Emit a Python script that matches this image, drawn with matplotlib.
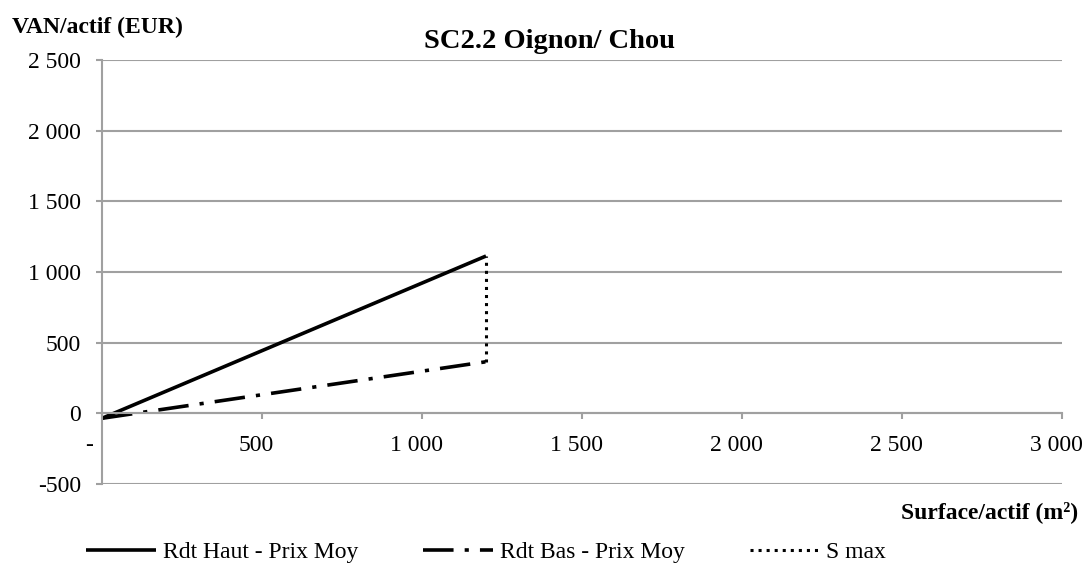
import matplotlib
matplotlib.use("Agg")
import matplotlib.pyplot as plt
from matplotlib.transforms import ScaledTranslation

plt.rcParams['font.family'] = ['Liberation Serif', 'DejaVu Serif']
plt.rcParams['lines.scale_dashes'] = False

# Data
surface = [0, 1200]
rdt_haut = [-35, 1113]
rdt_bas = [-35, 365]
smax_x = [1200, 1200]
smax_y = [365, 1113]

x_ticks = [0, 500, 1000, 1500, 2000, 2500, 3000]
x_labels = ['-', '500', '1 000', '1 500', '2 000', '2 500', '3 000']
y_ticks = [-500, 0, 500, 1000, 1500, 2000, 2500]
y_labels = ['-500', '0', '500', '1 000', '1 500', '2 000', '2 500']

title = 'SC2.2 Oignon/ Chou'
y_title = 'VAN/actif (EUR)'
x_title = 'Surface/actif (m²)'
series_names = ['Rdt Haut - Prix Moy', 'Rdt Bas - Prix Moy', 'S max']

W, H = 1086, 563
fig = plt.figure(figsize=(W / 100, H / 100), dpi=100)
ax = fig.add_axes([102 / W, 1 - 484 / H, (1062 - 102) / W, (484 - 60) / H])

grid_c = '#a0a0a0'
FS = 17

l1, = ax.plot(surface, rdt_haut, color='black', lw=2.6, solid_capstyle='butt')
l2, = ax.plot(surface, rdt_bas, color='black', lw=2.6,
              linestyle=(0, (22, 8, 3, 8)), dash_capstyle='butt')
l3, = ax.plot(smax_x, smax_y, color='black', lw=2.2,
              linestyle=(0, (2.2, 3.6)), dash_capstyle='butt')

for s in ['top', 'right']:
    ax.spines[s].set_visible(False)
ax.spines['left'].set_color(grid_c)
ax.spines['left'].set_linewidth(1.5)
ax.spines['bottom'].set_position(('data', 0))
ax.spines['bottom'].set_color(grid_c)
ax.spines['bottom'].set_linewidth(1.5)

ax.set_xlim(0, 3000)
ax.set_ylim(-500, 2500)
ax.set_xticks(x_ticks)
ax.set_xticklabels(x_labels)
ax.set_yticks(y_ticks)
ax.set_yticklabels(y_labels)

ax.yaxis.grid(True, color=grid_c, lw=1.5)
ax.set_axisbelow(True)

ax.tick_params(axis='y', length=4.3, width=1.5, color=grid_c, pad=10.8, labelsize=FS)
ax.tick_params(axis='x', length=4.5, width=1.5, color=grid_c, pad=11, direction='out', labelsize=FS)

for lbl in ax.get_xticklabels():
    shift = -13 if lbl.get_text() == '-' else -6
    lbl.set_transform(lbl.get_transform() + ScaledTranslation(shift / 100, 0, fig.dpi_scale_trans))

fig.text(549 / W, 1 - 42 / H, title, ha='center', va='center', fontsize=20.5, fontweight='bold')
fig.text(12 / W, 1 - 27 / H, y_title, ha='left', va='center', fontsize=FS, fontweight='bold')
fig.text(1078 / W, 1 - 512 / H, x_title, ha='right', va='center', fontsize=FS, fontweight='bold')

leg = fig.legend([l1, l2, l3], series_names, loc='center left',
                 bbox_to_anchor=(86 / W, 1 - 552 / H), ncol=3, frameon=False,
                 fontsize=FS, handlelength=2.95, handletextpad=0.3,
                 columnspacing=2.75, borderpad=0, borderaxespad=0)

fig.savefig('out.png', dpi=100)
